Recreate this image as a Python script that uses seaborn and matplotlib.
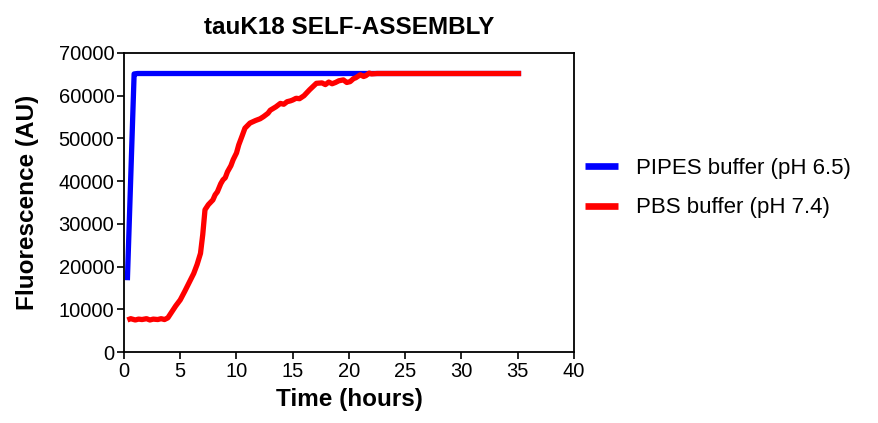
import matplotlib
matplotlib.use("Agg")
import matplotlib.pyplot as plt
import seaborn as sns
import pandas as pd

# PIPES buffer (pH 6.5)
pipes_time = [0.3, 0.9, 1.2, 5.0, 10.0, 15.0, 20.0, 25.0, 30.0, 35.3]
pipes_fluor = [16800, 65100, 65200, 65200, 65200, 65200, 65200, 65200, 65200, 65200]

# PBS buffer (pH 7.4)
pbs_time = [0.3, 0.6, 1.0, 1.3, 1.6, 2.0, 2.3, 2.6, 3.0, 3.3, 3.6, 3.9, 4.2, 4.6,
            5.0, 5.4, 5.8, 6.2, 6.5, 6.8, 7.0, 7.2, 7.5, 7.9, 8.1, 8.3, 8.6, 8.8,
            9.0, 9.2, 9.5, 9.7, 10.0, 10.2, 10.5, 10.75, 11.2, 11.7, 12.1, 12.4,
            12.8, 13.0, 13.5, 13.9, 14.2, 14.5, 14.8, 15.0, 15.3, 15.6, 16.0,
            16.5, 17.1, 17.6, 17.9, 18.2, 18.5, 18.8, 19.1, 19.5, 19.8, 20.1,
            20.4, 20.6, 21.0, 21.3, 21.5, 21.8, 22.0, 22.5, 23.0, 25.0, 28.0,
            31.0, 33.0, 35.3]
pbs_fluor = [7500, 7800, 7500, 7700, 7600, 7800, 7500, 7700, 7600, 7800, 7600,
             8000, 9200, 10800, 12200, 14200, 16300, 18400, 20500, 23100, 27500,
             33300, 34500, 35600, 36800, 37500, 39400, 40300, 40800, 42200, 43600,
             45000, 46600, 48500, 50600, 52400, 53600, 54200, 54600, 55100, 55900,
             56600, 57400, 58200, 58000, 58600, 58800, 59000, 59400, 59300, 60000,
             61400, 62900, 63000, 62600, 63200, 62800, 63100, 63500, 63700, 63100,
             63300, 64000, 64200, 64900, 64500, 64700, 65300, 65100, 65200, 65200,
             65200, 65200, 65200, 65200, 65200]

series_names = ["PIPES buffer (pH 6.5)", "PBS buffer (pH 7.4)"]
series_colors = ["#0000FF", "#FF0000"]
x_ticks = [0, 5, 10, 15, 20, 25, 30, 35, 40]
y_ticks = [0, 10000, 20000, 30000, 40000, 50000, 60000, 70000]

df = pd.concat([
    pd.DataFrame({"Time": pipes_time, "Fluor": pipes_fluor, "Series": series_names[0]}),
    pd.DataFrame({"Time": pbs_time, "Fluor": pbs_fluor, "Series": series_names[1]}),
], ignore_index=True)

sns.set_style("white")
plt.rcParams["font.family"] = ["Liberation Sans", "DejaVu Sans"]
plt.rcParams["text.color"] = "black"
plt.rcParams["axes.labelcolor"] = "black"

fig = plt.figure(figsize=(8.79, 4.23), dpi=100)
ax = fig.add_axes([124 / 879, 1 - 352 / 423, 450 / 879, 299 / 423])

sns.lineplot(data=df, x="Time", y="Fluor", hue="Series", hue_order=series_names,
             palette=series_colors, linewidth=3.8, ax=ax, sort=False,
             estimator=None, legend=True)
for ln in ax.get_lines():
    ln.set_solid_capstyle("butt")

ax.set_xlim(0, 40)
ax.set_ylim(0, 70000)
ax.set_xticks(x_ticks)
ax.set_yticks(y_ticks)
ax.tick_params(axis="both", direction="out", length=5, width=1.2, labelsize=14.5,
               colors="black", bottom=True, left=True, pad=2)
for s in ax.spines.values():
    s.set_color("black")
    s.set_linewidth(1.3)

ax.set_xlabel("Time (hours)", fontsize=17.5, fontweight="bold", labelpad=5)
ax.set_ylabel("Fluorescence (AU)", fontsize=17.5, fontweight="bold", labelpad=14)
ax.set_title("tauK18 SELF-ASSEMBLY", fontsize=17.5, fontweight="bold", pad=14)

handles, labels = ax.get_legend_handles_labels()
for h in handles:
    h.set_linewidth(4.8)
    h.set_solid_capstyle("butt")
fig.legend(handles, labels, loc="center left",
           bbox_to_anchor=(585 / 879, 1 - 188 / 423), bbox_transform=fig.transFigure,
           frameon=False, fontsize=16, handlelength=1.5, handletextpad=0.8,
           labelspacing=0.85, borderaxespad=0, borderpad=0)
if ax.get_legend() is not None:
    ax.get_legend().remove()

fig.savefig("out.png", dpi=100)
